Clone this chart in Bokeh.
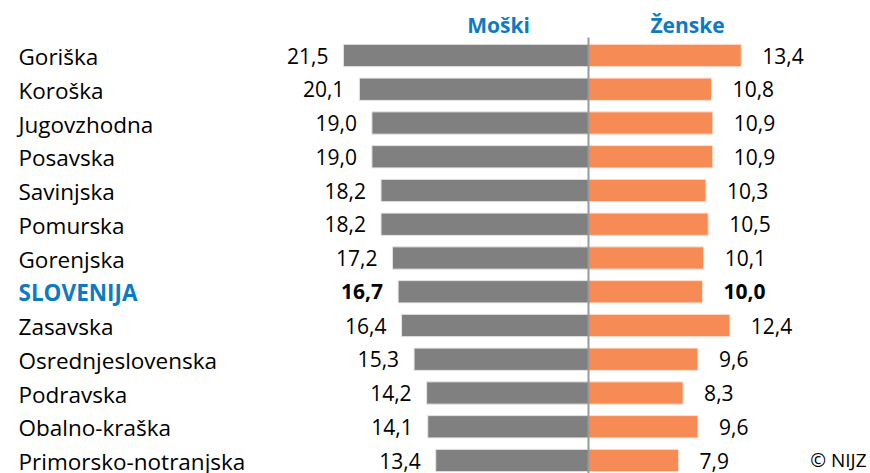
from bokeh.plotting import figure
from bokeh.models import ColumnDataSource, Range1d
from bokeh.core.properties import value
from bokeh.embed import file_html
from bokeh.resources import INLINE

regions = ["Goriška", "Koroška", "Jugovzhodna", "Posavska", "Savinjska", "Pomurska",
           "Gorenjska", "SLOVENIJA", "Zasavska", "Osrednjeslovenska", "Podravska",
           "Obalno-kraška", "Primorsko-notranjska"]
male = [21.5, 20.1, 19.0, 19.0, 18.2, 18.2, 17.2, 16.7, 16.4, 15.3, 14.2, 14.1, 13.4]
female = [13.4, 10.8, 10.9, 10.9, 10.3, 10.5, 10.1, 10.0, 12.4, 9.6, 8.3, 9.6, 7.9]
headers = ["Moški", "Ženske"]
highlight = "SLOVENIJA"

W, H = 870, 473
CX = 588.0          # pixel of zero
PXU = 11.4          # pixels per unit
ROW0 = 55.0         # pixel of first row centre
ROWH = 33.75        # row spacing in pixels

FONT = "Open Sans"
GRAY = "#808080"
ORANGE = "#F68B55"
BLUE = "#0E7AC4"

x_start = -CX / PXU
x_end = (W - CX) / PXU
y_top = -ROW0 / ROWH
y_bot = (H - ROW0) / ROWH

p = figure(width=W, height=H, x_range=Range1d(x_start, x_end), y_range=Range1d(y_bot, y_top),
           toolbar_location=None, output_backend="svg", min_border=0)
p.axis.visible = False
p.grid.visible = False
p.outline_line_color = None
p.background_fill_color = "white"
p.border_fill_color = "white"

n = len(regions)
ys = list(range(n))
is_hi = [r == highlight for r in regions]
src = ColumnDataSource(dict(
    y=ys,
    region=regions,
    mleft=[-m for m in male],
    fright=female,
    mlab=[f"{m:.1f}".replace(".", ",") for m in male],
    flab=[f"{f:.1f}".replace(".", ",") for f in female],
    mx=[-m - 15 / PXU for m in male],
    fx=[f + 21 / PXU for f in female],
    lx=[x_start + 18 / PXU] * n,
    style=["bold" if h else "normal" for h in is_hi],
    rcolor=[BLUE if h else "#000000" for h in is_hi],
))

p.hbar(y="y", left="mleft", right=0, height=0.66, source=src, fill_color=GRAY,
       line_color="#e6e6e6", line_width=1)
p.hbar(y="y", left=0, right="fright", height=0.66, source=src, fill_color=ORANGE,
       line_color="#fde0d0", line_width=1)

p.segment(x0=[0], y0=[(37 - ROW0) / ROWH], x1=[0], y1=[y_bot + 1], line_color="#999999",
          line_width=2)

p.text(x="lx", y="y", text="region", source=src, text_font=value(FONT), text_font_size="22.5px",
       text_font_style="style", text_color="rcolor", text_align="left", text_baseline="middle",
       y_offset=1)
p.text(x="mx", y="y", text="mlab", source=src, text_font=value(FONT), text_font_size="21px",
       text_font_style="style", text_color="#000000", text_align="right", text_baseline="middle",
       y_offset=0)
p.text(x="fx", y="y", text="flab", source=src, text_font=value(FONT), text_font_size="21px",
       text_font_style="style", text_color="#000000", text_align="left", text_baseline="middle",
       y_offset=0)

hy = (24 - ROW0) / ROWH
p.text(x=[(498 - CX) / PXU, (687 - CX) / PXU], y=[hy, hy], text=headers, text_font=value(FONT),
       text_font_size="21px", text_font_style="bold", text_color=BLUE, text_align="center",
       text_baseline="middle")

p.text(x=[(866 - CX) / PXU], y=[n - 1], text=["© NIJZ"], text_font=value(FONT),
       text_font_size="19px", text_color="#000000", text_align="right", text_baseline="middle",
       y_offset=-1)

open("out.html", "w").write(file_html(p, INLINE))
